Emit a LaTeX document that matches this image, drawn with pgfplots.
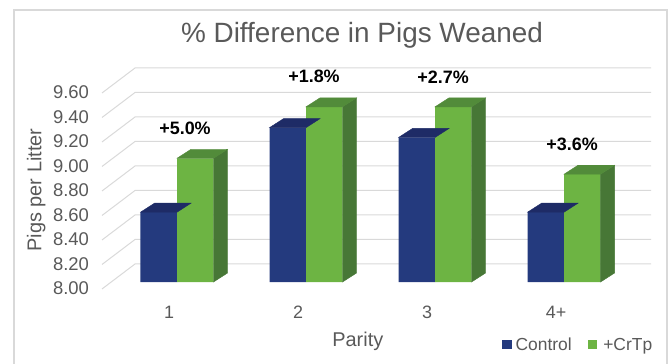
\documentclass[border=0pt]{standalone}
\usepackage{pgfplots}
\pgfplotsset{compat=1.18}
\usepackage{pgfplotstable}
\usepackage{fontspec}
\setmainfont{Liberation Sans}
\definecolor{navy}{HTML}{243A7E}
\definecolor{navytop}{HTML}{1E2B66}
\definecolor{grn}{HTML}{6DB443}
\definecolor{grntop}{HTML}{528B3A}
\definecolor{grnside}{HTML}{477736}
\definecolor{txt}{HTML}{595959}
\definecolor{gridc}{HTML}{D9D9D9}
\pgfdeclareplotmark{nothing}{}
\pgfplotstableread{
x control crtp lab
0 8.57 9.01 +5.0
1 9.26 9.43 +1.8
2 9.18 9.43 +2.7
3 8.57 8.88 +3.6
}\data
\begin{document}
\begin{tikzpicture}
\useasboundingbox (0,0) rectangle (672bp,364bp);
\draw[gridc, line width=1.2bp] (14bp,-10bp) rectangle (667bp,354bp);
\node[font=\fontsize{28}{32}\selectfont, text=txt] at (362bp,329bp) {\% Difference in Pigs Weaned};
\begin{axis}[
  scale only axis, width=549bp, height=196bp,
  anchor=south west, at={(102bp,82bp)},
  xmin=-0.5814, xmax=3.674, ymin=0, ymax=1.6,
  clip=false,
  axis line style={draw=none},
  major tick length=0pt,
  xtick style={draw=none}, ytick style={draw=none},
  xtick={0,1,2,3}, xticklabels={1,2,3,4+},
  ytick={0,0.2,0.4,0.6,0.8,1.0,1.2,1.4,1.6},
  yticklabels={8.00,8.20,8.40,8.60,8.80,9.00,9.20,9.40,9.60},
  xticklabel style={anchor=center, yshift=-30bp, xshift=-8bp, font=\fontsize{18}{20}\selectfont, text=txt},
  yticklabel style={anchor=center, xshift=-31bp, yshift=-6.5bp, font=\fontsize{18.5}{20}\selectfont, text=txt},
  xlabel={Parity},
  xlabel style={at={(axis description cs:0.466,-0.301)}, anchor=center, font=\fontsize{20}{22}\selectfont, text=txt},
  ylabel={Pigs per Litter},
  ylabel style={at={(axis description cs:-0.120,0.469)}, anchor=center, font=\fontsize{20}{22}\selectfont, text=txt},
  legend style={at={(axis description cs:0.723,-0.321)}, anchor=west, draw=none, fill=none,
    font=\fontsize{17.5}{20}\selectfont, text=txt,
    /tikz/every even column/.append style={column sep=14bp},
    /tikz/every odd column/.append style={column sep=0bp}},
  legend columns=2,
  legend image code/.code={\fill[#1] (0bp,-4.5bp) rectangle (9.5bp,4.5bp);},
]
\pgfplotsinvokeforeach{0,0.2,0.4,0.6,0.8,1.0,1.2,1.4,1.6}{
  \draw[gridc, line width=1bp] (axis cs:-0.5814,{#1-0.057}) -- (axis cs:-0.3256,{#1+0.147}) -- (axis cs:3.674,{#1+0.147});
}
% Control front faces
\addplot[ybar, bar width=0.283, bar shift=-0.1415, fill=navy, draw=none]
  table[x=x, y expr=\thisrow{control}-8] {\data};
\addlegendentry{\hspace{2bp}Control}
% Control top faces
\addplot[forget plot, only marks, scatter, mark=nothing,
  scatter/@pre marker code/.code={
    \fill[navytop] (0bp,0bp) -- (14bp,9bp) -- (-22.5bp,9bp) -- (-36.5bp,0bp) -- cycle;
  },
  scatter/@post marker code/.code={}]
  table[x=x, y expr=\thisrow{control}-8] {\data};
% CrTp front faces with labels
\addplot[ybar, bar width=0.283, bar shift=0.1415, fill=grn, draw=none,
  point meta=explicit symbolic,
  nodes near coords={\pgfplotspointmeta\%},
  nodes near coords style={anchor=center, xshift=8bp, yshift=30bp, font=\bfseries\fontsize{18}{20}\selectfont, text=black}]
  table[x=x, y expr=\thisrow{crtp}-8, meta=lab] {\data};
\addlegendentry{\hspace{4bp}+CrTp}
% CrTp side and top faces
\addplot[forget plot, only marks, scatter, mark=nothing,
  visualization depends on={(\thisrow{crtp}-8)*122.5 \as \hpt},
  scatter/@pre marker code/.code={
    \fill[grnside] (0bp,0bp) -- (14bp,9bp) -- (14bp,9bp-\hpt bp) -- (0bp,-\hpt bp) -- cycle;
    \fill[grntop] (0bp,0bp) -- (14bp,9bp) -- (-22.5bp,9bp) -- (-36.5bp,0bp) -- cycle;
  },
  scatter/@post marker code/.code={}]
  table[x expr=\thisrow{x}+0.283, y expr=\thisrow{crtp}-8] {\data};
\end{axis}
\end{tikzpicture}
\end{document}
